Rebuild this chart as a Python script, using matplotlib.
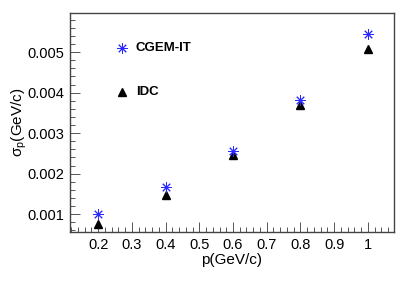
import matplotlib
matplotlib.use("Agg")
import matplotlib.pyplot as plt
from matplotlib.ticker import MultipleLocator

plt.rcParams['font.family'] = ['Liberation Sans', 'DejaVu Sans']
plt.rcParams['mathtext.fontset'] = 'custom'
plt.rcParams['mathtext.rm'] = 'Liberation Sans'

# momentum points and resolutions
p = [0.2, 0.4, 0.6, 0.8, 1.0]
sigma_cgem = [0.00099, 0.00167, 0.00255, 0.00382, 0.00546]
sigma_idc = [0.00075, 0.00147, 0.00245, 0.00369, 0.00509]

fig = plt.figure(figsize=(4.15, 2.81), dpi=100)
ax = fig.add_axes([0.169, 0.174, 0.780, 0.780])

star = (8, 2, 0)
ax.plot(p, sigma_cgem, linestyle='none', marker=star, markersize=7.5,
        markeredgewidth=0.7, color='#2a2aff', zorder=3)
ax.plot(p, sigma_idc, linestyle='none', marker='^', markersize=6,
        color='black', zorder=2)

ax.set_xlim(0.117, 1.077)
ax.set_ylim(0.000555, 0.00597)

ax.xaxis.set_minor_locator(MultipleLocator(0.02))
ax.yaxis.set_minor_locator(MultipleLocator(0.0002))
ax.set_xticks([0.2, 0.3, 0.4, 0.5, 0.6, 0.7, 0.8, 0.9, 1.0])
ax.set_xticklabels(['0.2', '0.3', '0.4', '0.5', '0.6', '0.7', '0.8', '0.9', '1'])
ax.set_yticks([0.001, 0.002, 0.003, 0.004, 0.005])
ax.set_yticklabels(['0.001', '0.002', '0.003', '0.004', '0.005'])

ax.tick_params(which='major', direction='in', length=7, width=0.7,
               color='#555555', labelsize=10.5, top=False, right=False, pad=4)
ax.tick_params(which='minor', direction='in', length=3.5, width=0.7,
               color='#555555', top=False, right=False)
for s in ax.spines.values():
    s.set_linewidth(1.0)
    s.set_color('#444444')

ax.set_xlabel('p(GeV/c)', fontsize=11, labelpad=1)
ax.set_ylabel('σ$_\\mathrm{p}$(GeV/c)', fontsize=11, labelpad=-1)

# legend, drawn by hand in the ROOT style
ax.plot([0.271], [0.0051], linestyle='none', marker=star, markersize=7.5,
        markeredgewidth=0.7, color='#2a2aff')
ax.plot([0.271], [0.00402], linestyle='none', marker='^', markersize=6,
        color='black')
ax.text(0.312, 0.0051, 'CGEM-IT', fontsize=9.5, fontweight='bold', va='center')
ax.text(0.312, 0.00402, 'IDC', fontsize=9.5, fontweight='bold', va='center')

fig.savefig('out.png', dpi=100)
